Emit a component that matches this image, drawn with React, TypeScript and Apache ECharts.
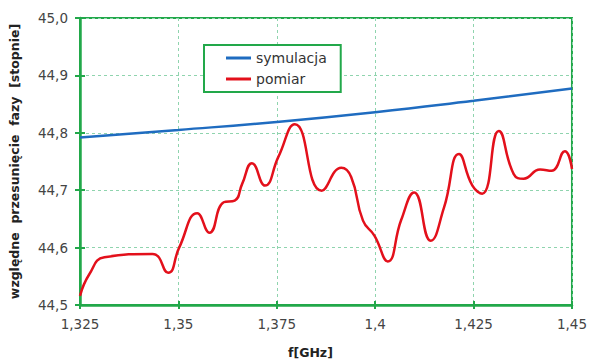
import React, { useEffect, useRef } from "react";
import * as echarts from "echarts";

const measFreq = [1.325, 1.3274, 1.3312, 1.3434, 1.3474, 1.3502, 1.3548, 1.3579, 1.3615, 1.3643, 1.3662, 1.3687, 1.372, 1.3754, 1.3796, 1.3864, 1.3914, 1.3939, 1.3969, 1.3998, 1.4032, 1.4066, 1.4099, 1.4141, 1.4175, 1.4213, 1.4247, 1.4272, 1.4314, 1.4352, 1.4377, 1.4419, 1.4448, 1.4482, 1.45];
const measVal = [44.516, 44.554, 44.583, 44.589, 44.556, 44.6, 44.66, 44.626, 44.679, 44.682, 44.711, 44.747, 44.708, 44.758, 44.815, 44.699, 44.739, 44.723, 44.647, 44.621, 44.576, 44.648, 44.696, 44.612, 44.67, 44.763, 44.708, 44.694, 44.803, 44.728, 44.72, 44.736, 44.734, 44.768, 44.737];
const simFreq = [1.325, 1.35, 1.375, 1.4, 1.425, 1.45];
const simVal = [44.792, 44.805, 44.819, 44.836, 44.856, 44.877];

const seriesNames = ["symulacja", "pomiar"];
const xName = "f[GHz]";
const yName = "względne  przesunięcie  fazy  [stopnie]";

const GREEN = "#22a84a";
const GRID = "#8fd4ae";

export default function App() {
  const ref = useRef<HTMLDivElement>(null);
  useEffect(() => {
    const chart = echarts.init(ref.current!, null, { renderer: "svg" });
    const fmtX = (v: number) => String(+v.toFixed(3)).replace(".", ",");
    const fmtY = (v: number) => v.toFixed(1).replace(".", ",");
    const xCommon = { type: "value", min: 1.325, max: 1.45, interval: 0.025 };
    const yCommon = { type: "value", min: 44.5, max: 45.0, interval: 0.1 };
    chart.setOption({
      animation: false,
      backgroundColor: "#ffffff",
      textStyle: { fontFamily: "DejaVu Sans" },
      grid: {
        left: 77, right: 18, top: 18, bottom: 56,
        show: true, borderColor: GREEN, borderWidth: 2, backgroundColor: "transparent",
      },
      legend: {
        orient: "vertical",
        left: 204, top: 45,
        data: seriesNames,
        icon: "rect",
        itemWidth: 25, itemHeight: 3,
        itemGap: 7,
        padding: [6, 14, 6, 22],
        borderColor: GREEN, borderWidth: 2,
        backgroundColor: "#ffffff",
        textStyle: { fontSize: 14, color: "#333", fontFamily: "DejaVu Sans" },
      },
      xAxis: [
        {
          ...xCommon,
          position: "bottom",
          axisLine: { show: true, onZero: false, lineStyle: { color: GREEN, width: 2.5 } },
          axisTick: { show: true, length: 4, lineStyle: { color: GREEN, width: 2 } },
          axisLabel: { formatter: fmtX, fontSize: 13.5, color: "#444", margin: 12 },
          splitLine: { show: true, lineStyle: { color: GRID, type: [3, 3], width: 1 } },
        },
        {
          ...xCommon,
          position: "bottom",
          axisLine: { show: false, onZero: false },
          axisTick: { show: true, inside: true, length: 4, lineStyle: { color: GREEN, width: 2 } },
          axisLabel: { show: false },
          splitLine: { show: false },
        },
      ],
      yAxis: [
        {
          ...yCommon,
          position: "left",
          name: yName,
          nameLocation: "middle",
          nameGap: 59,
          nameTextStyle: { fontSize: 12.5, fontWeight: "bold", color: "#222" },
          axisLine: { show: true, onZero: false, lineStyle: { color: GREEN, width: 2.5 } },
          axisTick: { show: true, length: 5, lineStyle: { color: GREEN, width: 2 } },
          axisLabel: { formatter: fmtY, fontSize: 13.5, color: "#444", margin: 12 },
          splitLine: { show: true, lineStyle: { color: GRID, type: [3, 3], width: 1 } },
        },
        {
          ...yCommon,
          position: "left",
          axisLine: { show: false, onZero: false },
          axisTick: { show: true, inside: true, length: 5, lineStyle: { color: GREEN, width: 2 } },
          axisLabel: { show: false },
          splitLine: { show: false },
        },
      ],
      graphic: [
        {
          type: "text",
          left: 288,
          top: 346,
          style: { text: xName, fontSize: 12.5, fontWeight: "bold", fill: "#222", fontFamily: "DejaVu Sans" },
        },
      ],
      series: [
        {
          name: seriesNames[0],
          type: "line",
          data: simFreq.map((f, i) => [f, simVal[i]]),
          smooth: true,
          showSymbol: false,
          symbol: "none",
          lineStyle: { color: "#1f6cc0", width: 2.5 },
          itemStyle: { color: "#1f6cc0" },
          z: 3,
        },
        {
          name: seriesNames[1],
          type: "line",
          data: measFreq.map((f, i) => [f, measVal[i]]),
          smooth: 0.5,
          showSymbol: false,
          symbol: "none",
          lineStyle: { color: "#e3101b", width: 2.5 },
          itemStyle: { color: "#e3101b" },
          z: 3,
        },
      ],
    });
    return () => chart.dispose();
  }, []);
  return (
    <div
      ref={ref}
      style={{ position: "absolute", left: 0, top: 0, width: 590, height: 361 }}
    />
  );
}
